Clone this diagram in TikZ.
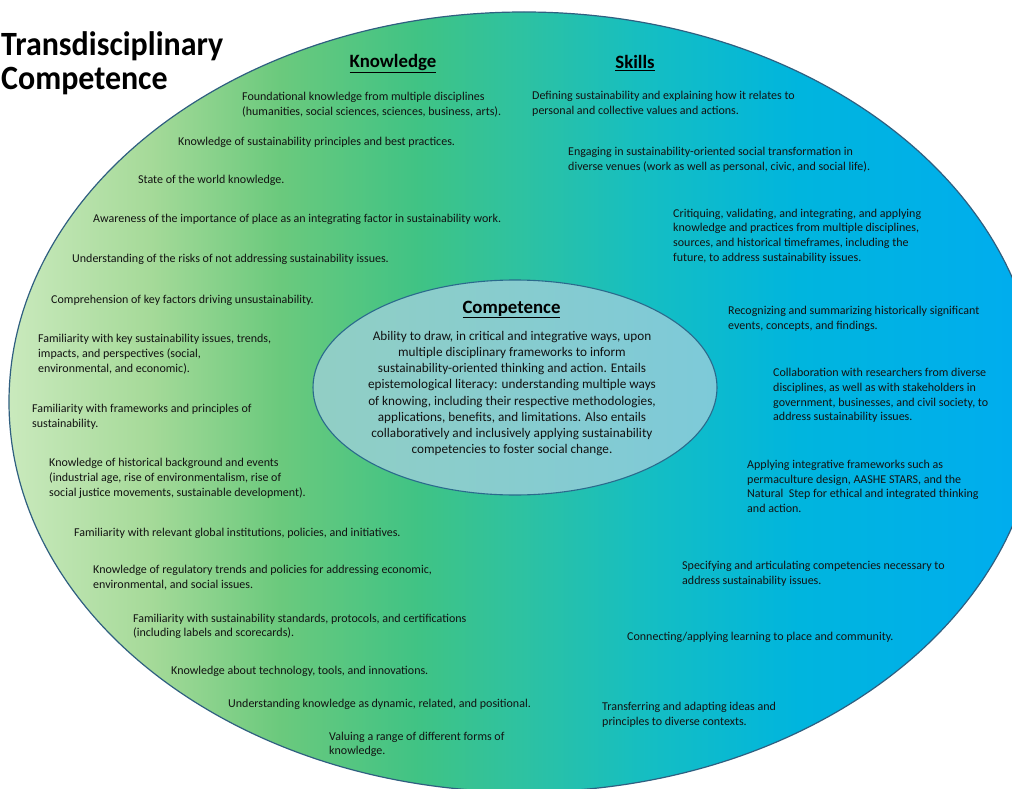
\documentclass[tikz,border=0pt]{standalone}
\usepackage{fontspec}
\setmainfont{Carlito}
\newfontfamily\titlefont{Carlito}[FakeStretch=0.94]
\definecolor{txt}{HTML}{121212}
\definecolor{outerline}{HTML}{2F5F80}
\definecolor{innerline}{HTML}{2A6A8C}
\pgfdeclarehorizontalshading{outershade}{100bp}{%
 rgb(0bp)=(0.79,0.915,0.74);
 rgb(25bp)=(0.79,0.915,0.74);
 rgb(31.8bp)=(0.65,0.855,0.6);
 rgb(38.1bp)=(0.42,0.79,0.49);
 rgb(44.9bp)=(0.25,0.765,0.52);
 rgb(49.8bp)=(0.18,0.76,0.63);
 rgb(56.1bp)=(0.08,0.745,0.765);
 rgb(63.3bp)=(0,0.71,0.87);
 rgb(75bp)=(0,0.675,0.94);
 rgb(100bp)=(0,0.675,0.94)}
\pgfdeclarehorizontalshading{innershade}{100bp}{%
 rgb(0bp)=(0.57,0.81,0.77);
 rgb(25bp)=(0.57,0.81,0.77);
 rgb(75bp)=(0.49,0.79,0.85);
 rgb(100bp)=(0.49,0.79,0.85)}
\tikzset{
  item/.style={anchor=west, align=left, inner sep=0pt, text=txt,
    font=\fontsize{12}{14.7}\selectfont},
  head/.style={anchor=base, inner sep=0pt, text=black,
    font=\bfseries\fontsize{18.8}{21}\selectfont},
  compbody/.style={anchor=center, align=center, inner sep=0pt, text=txt,
    font=\fontsize{13.2}{16.1}\selectfont},
  titletext/.style={anchor=north west, align=left, inner sep=0pt, text=black,
    font=\titlefont\bfseries\fontsize{34}{34.5}\selectfont}
}
\begin{document}
\begin{tikzpicture}[x=1pt,y=-1pt]
\useasboundingbox (0,0) rectangle (1012,789);
\clip (0,0) rectangle (1012,789);
\fill[white] (0,0) rectangle (1012,789);
% outer ellipse
\shade[shading=outershade, draw=outerline, line width=1.2pt]
  (524,402) ellipse [x radius=515, y radius=390];
% inner ellipse
\shade[shading=innershade, draw=innerline, line width=1.1pt]
  (515,387.5) ellipse [x radius=202, y radius=107.5];

\node[titletext] (title) at (1,31) {Transdisciplinary\\Competence};

\node[head] (hk) at (393,68) {\underline{Knowledge}};
\node[head] (hs) at (635,69) {\underline{Skills}};
\node[head] (hc) at (511.5,313) {\underline{Competence}};

\node[compbody] (cb) at (512,393.5) {Ability to draw, in critical and integrative ways, upon\\
multiple disciplinary frameworks to inform\\
sustainability-oriented thinking and action. Entails\\
epistemological literacy: understanding multiple ways\\
of knowing, including their respective methodologies,\\
applications, benefits, and limitations. Also entails\\
collaboratively and inclusively applying sustainability\\
competencies to foster social change.};

% Knowledge items
\node[item] (k1) at (242,104.5) {Foundational knowledge from multiple disciplines\\(humanities, social sciences, sciences, business, arts).};
\node[item] (k2) at (178,142) {Knowledge of sustainability principles and best practices.};
\node[item] (k3) at (138,180) {State of the world knowledge.};
\node[item] (k4) at (93,219) {Awareness of the importance of place as an integrating factor in sustainability work.};
\node[item] (k5) at (72,259) {Understanding of the risks of not addressing sustainability issues.};
\node[item] (k6) at (51,300) {Comprehension of key factors driving unsustainability.};
\node[item] (k7) at (38,354) {Familiarity with key sustainability issues, trends,\\impacts, and perspectives (social,\\environmental, and economic).};
\node[item] (k8) at (32,417) {Familiarity with frameworks and principles of\\sustainability.};
\node[item] (k9) at (49,478.5) {Knowledge of historical background and events\\(industrial age, rise of environmentalism, rise of\\social justice movements, sustainable development).};
\node[item] (k10) at (74,533) {Familiarity with relevant global institutions, policies, and initiatives.};
\node[item] (k11) at (93,577.5) {Knowledge of regulatory trends and policies for addressing economic,\\environmental, and social issues.};
\node[item] (k12) at (133,626.5) {Familiarity with sustainability standards, protocols, and certifications\\(including labels and scorecards).};
\node[item] (k13) at (171,671) {Knowledge about technology, tools, and innovations.};
\node[item] (k14) at (228,704) {Understanding knowledge as dynamic, related, and positional.};
\node[item] (k15) at (329,744.5) {Valuing a range of different forms of\\knowledge.};

% Skills items
\node[item] (s1) at (532,104) {Defining sustainability and explaining how it relates to\\personal and collective values and actions.};
\node[item] (s2) at (568,160) {Engaging in sustainability-oriented social transformation in\\diverse venues (work as well as personal, civic, and social life).};
\node[item] (s3) at (673,236) {Critiquing, validating, and integrating, and applying\\knowledge and practices from multiple disciplines,\\sources, and historical timeframes, including the\\future, to address sustainability issues.};
\node[item] (s4) at (728,319) {Recognizing and summarizing historically significant\\events, concepts, and findings.};
\node[item] (s5) at (773,395.5) {Collaboration with researchers from diverse\\disciplines, as well as with stakeholders in\\government, businesses, and civil society, to\\address sustainability issues.};
\node[item] (s6) at (747,486.5) {Applying integrative frameworks such as\\permaculture design, AASHE STARS, and the\\Natural\ \ Step for ethical and integrated thinking\\and action.};
\node[item] (s7) at (682,573.5) {Specifying and articulating competencies necessary to\\address sustainability issues.};
\node[item] (s8) at (627,637) {Connecting/applying learning to place and community.};
\node[item] (s9) at (602,714.5) {Transferring and adapting ideas and\\principles to diverse contexts.};
\end{tikzpicture}
\end{document}
